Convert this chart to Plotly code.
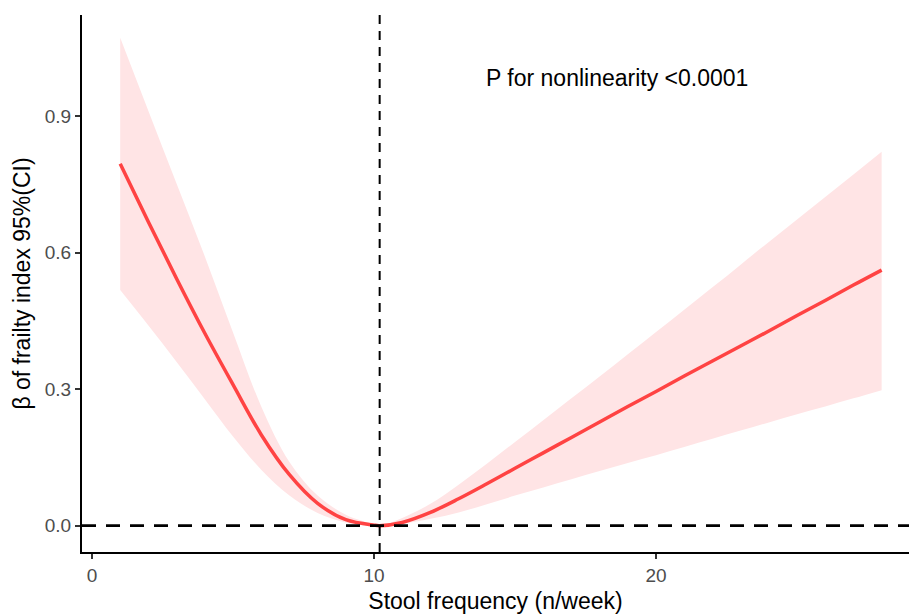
import plotly.graph_objects as go

# Stool frequency (n/week)
x_vals = [1, 2, 3, 4, 5, 6, 7, 8, 9, 10, 10.2, 11, 12, 13, 14, 15, 16, 17, 18,
          19, 20, 21, 22, 23, 24, 25, 26, 27, 28]
# beta estimate
beta = [0.796, 0.668, 0.543, 0.423, 0.310, 0.200, 0.112, 0.049, 0.013, 0.001, 0.0,
        0.007, 0.029, 0.059, 0.092, 0.126, 0.160, 0.194, 0.228,
        0.262, 0.295, 0.329, 0.362, 0.395, 0.428, 0.462, 0.495, 0.529, 0.562]
# upper 95% CI
upper = [1.073, 0.912, 0.752, 0.592, 0.425, 0.262, 0.140, 0.066, 0.024, 0.003, 0.0,
         0.017, 0.048, 0.090, 0.136, 0.184, 0.232, 0.280, 0.328,
         0.377, 0.426, 0.475, 0.524, 0.574, 0.624, 0.673, 0.723, 0.772, 0.822]
# lower 95% CI
lower = [0.518, 0.440, 0.360, 0.278, 0.196, 0.123, 0.066, 0.028, 0.007, 0.0, 0.0,
         0.004, 0.015, 0.029, 0.047, 0.066, 0.084, 0.102, 0.120,
         0.138, 0.155, 0.173, 0.191, 0.209, 0.227, 0.245, 0.262, 0.280, 0.298]

ref_x = 10.2
ref_y = 0.0
x_ticks = [0, 10, 20]
y_ticks = [0.0, 0.3, 0.6, 0.9]
annot_text = "P for nonlinearity <0.0001"

FONT = "Liberation Sans, Arial"

fig = go.Figure()
fig.add_trace(go.Scatter(x=x_vals, y=lower, mode="lines", line=dict(width=0, shape="spline"),
                         hoverinfo="skip", showlegend=False))
fig.add_trace(go.Scatter(x=x_vals, y=upper, mode="lines", line=dict(width=0, shape="spline"),
                         fill="tonexty", fillcolor="#FFE4E5", showlegend=False))
fig.add_trace(go.Scatter(x=x_vals, y=beta, mode="lines",
                         line=dict(color="#FF4343", width=3.5, shape="spline"),
                         showlegend=False))

fig.add_vline(x=ref_x, line=dict(color="black", width=2, dash="9px,7px"))
fig.add_hline(y=ref_y, line=dict(color="black", width=2.8, dash="14px,10px"))

fig.add_annotation(x=18.6, y=0.985, text=annot_text, showarrow=False,
                   font=dict(family=FONT, size=23, color="black"))

axis_common = dict(showgrid=False, zeroline=False, showline=True, linecolor="black",
                   linewidth=2, ticks="outside", ticklen=5, tickwidth=1.5,
                   tickcolor="#333333",
                   tickfont=dict(family=FONT, size=19, color="#4D4D4D"))

fig.update_layout(
    width=909, height=615,
    margin=dict(l=82, r=0, t=15, b=63),
    plot_bgcolor="white", paper_bgcolor="white",
    xaxis=dict(range=[-0.355, 28.97], tickvals=x_ticks,
               title=dict(text="Stool frequency (n/week)", standoff=8,
                          font=dict(family=FONT, size=23, color="black")),
               **axis_common),
    yaxis=dict(range=[-0.058, 1.123], tickvals=y_ticks, tickformat=".1f",
               title=dict(text="β of frailty index 95%(CI)", standoff=8,
                          font=dict(family=FONT, size=23, color="black")),
               **axis_common),
)

fig.write_html("out.html")
